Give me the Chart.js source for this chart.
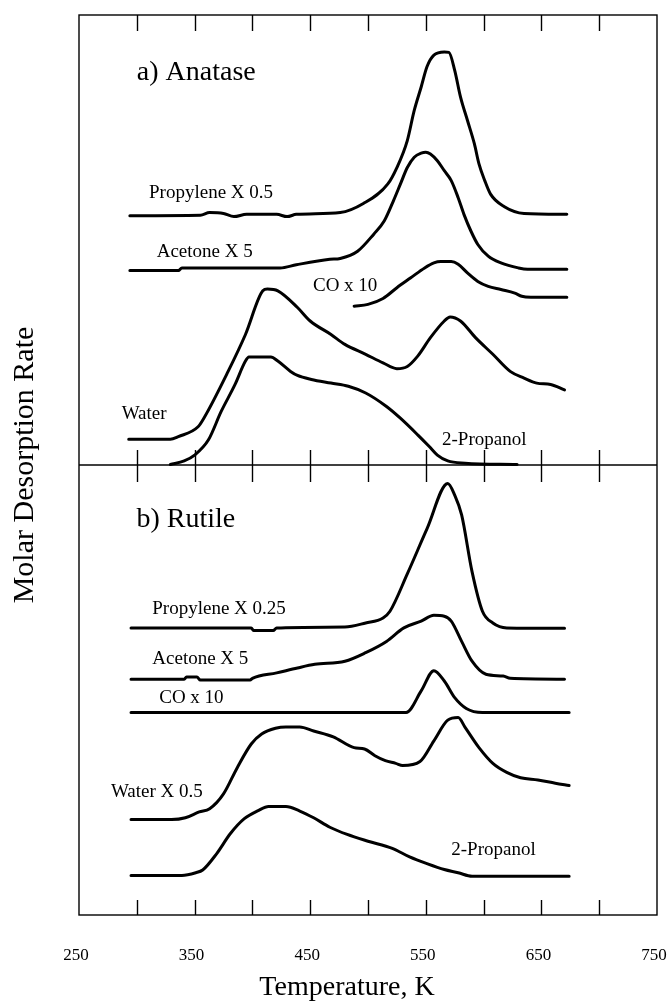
<!DOCTYPE html>
<html lang="en">

<head>
    <meta charset="UTF-8">
    <title>TPD 2-Propanol on TiO2</title>
    <script src="https://cdn.jsdelivr.net/npm/chart.js"></script>
    <style>
        body { margin: 0; background: #fff; }
        canvas { display: block; }
    </style>
</head>

<body>
    <canvas id="tpdChart" width="668" height="1001"></canvas>

    <script>
        // x axis: temperature (K)
        const xTicks = [300, 350, 400, 450, 500, 550, 600, 650, 700];
        const xLabels = [250, 350, 450, 550, 650, 750];

        // --- a) Anatase (upper panel, rate offset 100..200) ---
        const anaPropyleneT = [294, 355, 363, 375, 384, 395, 421, 430, 438, 476, 496, 517, 525, 534, 540, 546, 551, 557, 566, 570, 575, 580, 586, 592, 596, 601, 606, 618, 635, 672];
        const anaPropyleneRate = [155.4, 155.5, 156.1, 155.9, 155.2, 155.7, 155.7, 155.2, 155.7, 156.1, 158.1, 162.4, 166.1, 172.1, 178.8, 184.0, 188.5, 191.1, 191.8, 191.7, 187.7, 181.8, 176.6, 171.4, 166.9, 163.2, 160.2, 157.4, 155.9, 155.7];

        const anaAcetoneT = [294, 336, 339, 424, 438, 467, 476, 491, 505, 514, 522, 528, 534, 540, 546, 550, 554, 560, 566, 572, 578, 583, 589, 595, 604, 615, 630, 638, 672];
        const anaAcetoneRate = [143.2, 143.2, 143.8, 143.8, 144.5, 145.7, 145.9, 147.5, 151.3, 154.2, 158.7, 162.4, 166.1, 168.4, 169.3, 169.5, 169.1, 167.6, 165.4, 163.2, 159.4, 155.7, 152.0, 149.0, 146.4, 144.9, 143.8, 143.5, 143.5];

        const anaCOT = [488, 500, 513, 525, 537, 549, 557, 563, 572, 578, 586, 595, 604, 615, 627, 633, 641, 672];
        const anaCORate = [135.3, 135.7, 137.0, 139.4, 141.6, 143.8, 144.9, 145.2, 145.2, 144.6, 142.7, 140.8, 139.7, 139.0, 138.2, 137.5, 137.3, 137.3];

        const anaWaterT = [293, 329, 336, 353, 358, 379, 394, 409, 413, 422, 439, 450, 468, 480, 498, 513, 525, 534, 543, 554, 566, 571, 580, 593, 608, 623, 635, 646, 658, 670];
        const anaWaterRate = [105.7, 105.7, 106.3, 108.5, 110.4, 120.8, 129.0, 138.7, 139.1, 138.7, 135.0, 132.0, 129.0, 126.8, 124.6, 122.7, 121.4, 121.9, 124.2, 128.3, 132.0, 132.9, 132.0, 128.3, 124.6, 120.8, 119.3, 118.2, 117.9, 116.7];

        const anaPropanolT = [329, 341, 350, 362, 373, 385, 394, 397, 416, 422, 433, 439, 451, 468, 483, 498, 516, 528, 543, 553, 560, 569, 584, 629];
        const anaPropanolRate = [100.1, 100.9, 102.2, 105.6, 111.9, 117.9, 123.1, 124.0, 124.0, 123.1, 120.8, 119.9, 119.0, 118.2, 117.5, 116.0, 113.0, 110.4, 106.7, 104.1, 102.2, 100.9, 100.4, 100.1];

        // --- b) Rutile (lower panel, rate 0..100) ---
        const rutPropyleneT = [295, 399, 401, 418, 421, 480, 498, 513, 519, 534, 551, 569, 575, 581, 590, 599, 608, 620, 670];
        const rutPropyleneRate = [63.8, 63.8, 63.2, 63.2, 63.8, 64.0, 64.9, 66.0, 67.5, 75.8, 85.8, 95.9, 93.3, 88.9, 76.3, 67.5, 64.9, 63.8, 63.7];

        const rutAcetoneT = [295, 341, 343, 352, 355, 398, 400, 421, 439, 454, 480, 498, 516, 531, 546, 557, 566, 572, 581, 590, 602, 617, 623, 670];
        const rutAcetoneRate = [52.4, 52.4, 52.9, 52.9, 52.2, 52.2, 52.6, 53.8, 54.9, 55.7, 56.4, 58.3, 60.8, 63.8, 65.3, 66.6, 66.4, 65.3, 60.8, 56.4, 53.5, 53.1, 52.6, 52.4];

        const rutCOT = [295, 533, 546, 557, 566, 575, 585, 599, 674];
        const rutCORate = [45.0, 45.0, 49.8, 54.3, 52.0, 48.3, 45.9, 45.0, 45.0];

        const rutWaterT = [295, 330, 342, 354, 363, 375, 387, 399, 408, 420, 429, 441, 453, 470, 488, 497, 506, 515, 524, 530, 545, 557, 569, 578, 584, 596, 608, 620, 632, 647, 662, 674];
        const rutWaterRate = [21.2, 21.2, 21.6, 22.9, 23.6, 26.9, 32.8, 38.0, 40.2, 41.5, 41.8, 41.8, 40.9, 39.6, 37.2, 36.9, 35.4, 34.3, 33.7, 33.2, 34.1, 38.7, 43.3, 43.9, 41.7, 37.2, 33.7, 31.7, 30.5, 30.0, 29.3, 28.8];

        const rutPropanolT = [295, 339, 351, 357, 369, 381, 393, 405, 414, 429, 441, 453, 467, 482, 500, 521, 536, 551, 566, 578, 590, 674];
        const rutPropanolRate = [8.8, 8.8, 9.4, 10.0, 13.6, 18.1, 21.4, 23.2, 24.1, 24.1, 23.1, 21.6, 19.5, 17.9, 16.4, 14.8, 12.9, 11.4, 10.1, 9.4, 8.6, 8.6];

        const toPoints = (ts, rs) => ts.map((t, i) => ({ x: t, y: rs[i] }));

        const series = [
            [anaPropyleneT, anaPropyleneRate],
            [anaAcetoneT, anaAcetoneRate],
            [anaCOT, anaCORate],
            [anaWaterT, anaWaterRate],
            [anaPropanolT, anaPropanolRate],
            [rutPropyleneT, rutPropyleneRate],
            [rutAcetoneT, rutAcetoneRate],
            [rutCOT, rutCORate],
            [rutWaterT, rutWaterRate],
            [rutPropanolT, rutPropanolRate]
        ];

        const serif = "'Liberation Serif', 'Times New Roman', serif";

        // frame, inward ticks, panel divider and all the text
        const frameAndText = {
            id: 'frameAndText',
            afterDatasetsDraw(chart) {
                const { ctx, chartArea: a, scales: { x, y } } = chart;
                const mid = y.getPixelForValue(100);
                const seg = (x1, y1, x2, y2) => {
                    ctx.beginPath();
                    ctx.moveTo(x1, y1);
                    ctx.lineTo(x2, y2);
                    ctx.stroke();
                };

                ctx.save();
                ctx.strokeStyle = '#000';
                ctx.lineWidth = 1.4;
                ctx.strokeRect(a.left, a.top, a.width, a.height);
                seg(a.left, mid, a.right, mid);

                xTicks.forEach(t => {
                    const px = Math.round(x.getPixelForValue(t)) + 0.5;
                    seg(px, a.top, px, a.top + 16);
                    seg(px, mid - 15, px, mid + 17);
                    seg(px, a.bottom, px, a.bottom - 15);
                });

                ctx.fillStyle = '#000';
                ctx.textAlign = 'center';
                ctx.textBaseline = 'middle';
                ctx.font = `17px ${serif}`;
                xLabels.forEach(t => {
                    ctx.fillText(String(t), x.getPixelForValue(t) - 3, a.bottom + 41);
                });

                ctx.font = `28px ${serif}`;
                ctx.fillText('Temperature, K', 347, a.bottom + 73);

                ctx.save();
                ctx.translate(25, 465);
                ctx.rotate(-Math.PI / 2);
                ctx.font = `30px ${serif}`;
                ctx.fillText('Molar Desorption Rate', 0, 0);
                ctx.restore();

                // curve labels, anchored in data units
                ctx.textAlign = 'left';
                ctx.textBaseline = 'alphabetic';
                const put = (text, t, r, size) => {
                    ctx.font = `${size}px ${serif}`;
                    ctx.fillText(text, x.getPixelForValue(t), y.getPixelForValue(r));
                };
                put('a) Anatase', 300, 185.5, 28);
                put('Propylene X 0.5', 310.6, 159.4, 19);
                put('Acetone X 5', 317.2, 146.2, 19);
                put('CO x 10', 452.4, 138.6, 19);
                put('Water', 286.9, 110.3, 19);
                put('2-Propanol', 564, 104.5, 19);

                put('b) Rutile', 299.7, 86.3, 28);
                put('Propylene X 0.25', 313.4, 66.9, 19);
                put('Acetone X 5', 313.4, 55.7, 19);
                put('CO x 10', 319.4, 47.2, 19);
                put('Water X 0.5', 277.6, 26.2, 19);
                put('2-Propanol', 572, 13.3, 19);
                ctx.restore();
            }
        };

        new Chart(document.getElementById('tpdChart'), {
            type: 'line',
            data: {
                datasets: series.map(([ts, rs]) => ({
                    data: toPoints(ts, rs),
                    borderColor: '#000',
                    borderWidth: 3,
                    borderJoinStyle: 'round',
                    borderCapStyle: 'round',
                    pointRadius: 0,
                    fill: false,
                    cubicInterpolationMode: 'monotone'
                }))
            },
            options: {
                responsive: false,
                animation: false,
                devicePixelRatio: 1,
                layout: { padding: { left: 79, top: 15, right: 11, bottom: 86 } },
                plugins: { legend: { display: false }, tooltip: { enabled: false } },
                scales: {
                    x: { type: 'linear', min: 250, max: 750, display: false },
                    y: { min: 0, max: 200, display: false }
                }
            },
            plugins: [frameAndText]
        });
    </script>
</body>

</html>
